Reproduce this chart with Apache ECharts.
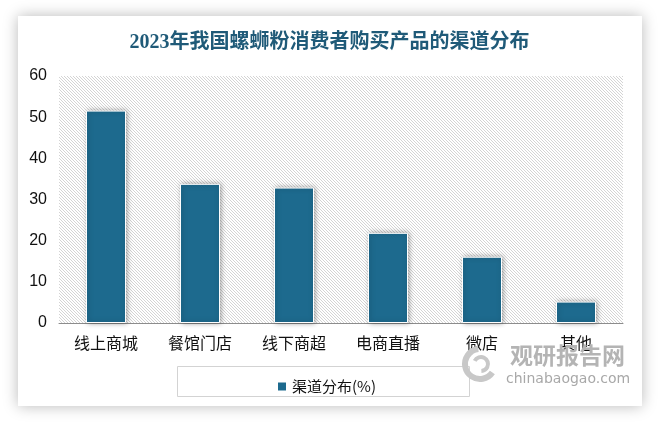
<!DOCTYPE html>
<html><head><meta charset="utf-8">
<script src="https://cdn.jsdelivr.net/npm/echarts@6/dist/echarts.min.js"></script>
<style>html,body{margin:0;padding:0;background:#fff;}#c{width:659px;height:424px;}</style>
</head><body><div id="c"></div>
<script>
var categories = ['线上商城','餐馆门店','线下商超','电商直播','微店','其他'];
var values = [51.6, 33.8, 32.9, 21.9, 16.1, 5.2];
var seriesName = '渠道分布(%)';
var titleText = '2023年我国螺蛳粉消费者购买产品的渠道分布';

var pc = document.createElement('canvas');
pc.width = 3; pc.height = 3;
var pctx = pc.getContext('2d');
pctx.fillStyle = '#ffffff'; pctx.fillRect(0,0,3,3);
pctx.fillStyle = '#d4d4d4';
for (var i = 0; i < 3; i++) pctx.fillRect(i, i, 1, 1);

var chart = echarts.init(document.getElementById('c'));
chart.setOption({
  animation: false,
  title: {
    text: titleText, left: 'center', top: 28,
    textStyle: {fontFamily: '"Liberation Serif","Noto Sans CJK SC",serif', fontSize: 20, fontWeight: 'bold', color: '#1f5a78'}
  },
  graphic: [
    {type: 'rect', z: -10, shape: {x: 18, y: 16, width: 624, height: 390},
     style: {fill: '#fff', shadowBlur: 14, shadowColor: 'rgba(0,0,0,0.28)'}},
    {type: 'rect', z: 1, shape: {x: 177.5, y: 366.5, width: 292, height: 30},
     style: {fill: 'none', stroke: '#d3d3d3', lineWidth: 1}},
    {type: 'arc', z: 1, shape: {cx: 480, cy: 364, r: 15, startAngle: 0.6, endAngle: 4.6},
     style: {fill: 'none', stroke: '#c8c8c8', lineWidth: 6}},
    {type: 'arc', z: 1, shape: {cx: 481, cy: 364, r: 7, startAngle: 3.6, endAngle: 7.8},
     style: {fill: 'none', stroke: '#c8c8c8', lineWidth: 4}},
    {type: 'text', z: 1, left: 510, top: 344,
     style: {text: '观研报告网', fill: '#b4b4b4', font: 'bold 23px "Noto Sans CJK SC"'}},
    {type: 'text', z: 1, left: 506, top: 372,
     style: {text: 'chinabaogao.com', fill: '#a8a8a8', font: '14px "DejaVu Sans"'}}
  ],
  legend: {
    left: 271, top: 374, itemWidth: 10, itemHeight: 10, itemGap: 5,
    icon: 'rect',
    textStyle: {fontSize: 15, color: '#111', fontFamily: '"Noto Sans CJK SC"'},
    data: [seriesName]
  },
  grid: {left: 59, right: 36, top: 76, bottom: 101, show: true, borderWidth: 0,
         backgroundColor: {image: pc, repeat: 'repeat'}},
  xAxis: {
    type: 'category', data: categories,
    axisLine: {lineStyle: {color: '#8c8c8c', width: 1}},
    axisTick: {show: false},
    axisLabel: {fontSize: 16, color: '#111', margin: 12, fontFamily: '"Noto Sans CJK SC"'}
  },
  yAxis: {
    type: 'value', min: 0, max: 60, interval: 10,
    axisLine: {show: false}, axisTick: {show: false},
    splitLine: {show: false},
    axisLabel: {fontSize: 16, color: '#111', margin: 12, fontFamily: '"Liberation Sans",sans-serif'}
  },
  series: [{
    name: seriesName, type: 'bar', data: values, barWidth: 40,
    itemStyle: {color: '#1d6a8e', borderColor: '#fff', borderWidth: 1,
      shadowBlur: 5, shadowColor: 'rgba(0,0,0,0.35)', shadowOffsetX: 1, shadowOffsetY: 0}
  }]
});
</script></body></html>
